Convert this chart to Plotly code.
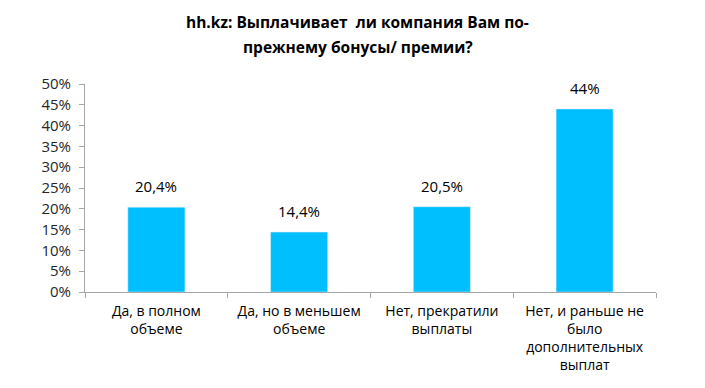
import plotly.graph_objects as go

categories = ["Да, в полном<br>объеме", "Да, но в меньшем<br>объеме", "Нет, прекратили<br>выплаты", "Нет, и раньше не<br>было<br>дополнительных<br>выплат"]
values = [0.204, 0.144, 0.205, 0.44]
value_labels = ["20,4%", "14,4%", "20,5%", "44%"]
tick_vals = [0, 0.05, 0.10, 0.15, 0.20, 0.25, 0.30, 0.35, 0.40, 0.45, 0.50]
tick_text = ["0%", "5%", "10%", "15%", "20%", "25%", "30%", "35%", "40%", "45%", "50%"]
title_lines = ["hh.kz: Выплачивает  ли компания Вам по-", "прежнему бонусы/ премии?"]

# page body has an 8px default margin, so the figure is drawn 8px right/down
W, H = 697, 380
L, T, R, B = 77, 76, 49, 96
plot_h = H - T - B
plot_w = W - L - R

fig = go.Figure(go.Bar(
    x=categories, y=values,
    marker_color="#00BFFF", width=0.4, cliponaxis=False,
))

for c, v, lab in zip(categories, values, value_labels):
    fig.add_annotation(x=c, y=v, text=lab, showarrow=False, xanchor="center",
                       yanchor="bottom", yshift=9,
                       font=dict(size=15, color="#000000", family="Open Sans"))

fig.update_layout(
    width=W, height=H,
    margin=dict(l=L, t=T, r=R, b=B, autoexpand=False),
    paper_bgcolor="white", plot_bgcolor="white",
    showlegend=False,
    font=dict(family="Open Sans", size=14, color="#000000"),
)
for i, line in enumerate(title_lines):
    fig.add_annotation(text=line, xref="paper", yref="paper",
                       x=(349.5 - L) / plot_w, y=1 + (T - (14 + 25 * i)) / plot_h,
                       xanchor="center", yanchor="middle", showarrow=False,
                       font=dict(size=15.5, family="Open Sans", color="#000000", weight="bold"))
fig.update_yaxes(range=[0, 0.5], tickvals=tick_vals, ticktext=tick_text,
                 showgrid=False, showline=True, linecolor="#A6A6A6", linewidth=1,
                 ticks="outside", ticklen=5, tickcolor="#A6A6A6", automargin=False,
                 ticklabelstandoff=5,
                 tickfont=dict(size=15, color="#262626"), zeroline=False)
fig.update_xaxes(showline=True, linecolor="#A6A6A6", linewidth=1, automargin=False,
                 ticks="outside", tickson="boundaries", ticklen=5, tickcolor="#A6A6A6",
                 ticklabelstandoff=6,
                 tickfont=dict(size=14, color="#000000"), tickangle=0)

fig.write_html("out.html")
